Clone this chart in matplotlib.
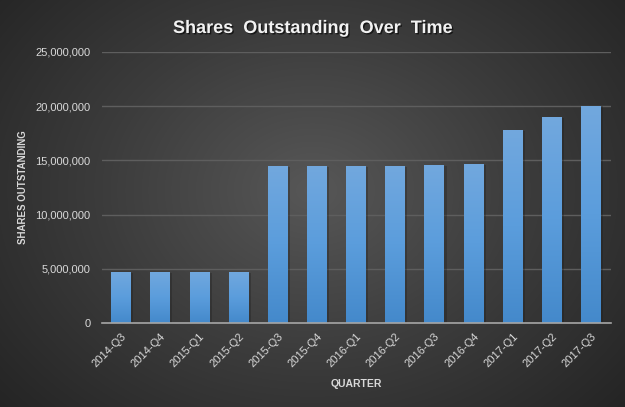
import matplotlib
matplotlib.use("Agg")
import matplotlib.pyplot as plt
import matplotlib.patheffects as pe
from matplotlib.colors import LinearSegmentedColormap
from matplotlib.ticker import FuncFormatter, MultipleLocator
import numpy as np

quarters = ["2014-Q3", "2014-Q4", "2015-Q1", "2015-Q2", "2015-Q3", "2015-Q4",
            "2016-Q1", "2016-Q2", "2016-Q3", "2016-Q4", "2017-Q1", "2017-Q2", "2017-Q3"]
shares = [4720000, 4720000, 4720000, 4720000, 14480000, 14480000,
          14480000, 14480000, 14580000, 14670000, 17800000, 19000000, 20020000]

TEXT = "#d9d9d9"
GRID = "#5e5e5e"

plt.rcParams["font.family"] = ["Liberation Sans", "DejaVu Sans"]

fig = plt.figure(figsize=(6.25, 4.07), dpi=100)

# radial background gradient
bg = fig.add_axes([0, 0, 1, 1], zorder=-10)
yy, xx = np.mgrid[0:407, 0:625]
r = np.sqrt(((xx - 312) / 420.0) ** 2 + ((yy - 190) / 330.0) ** 2)
r = np.clip(r, 0, 1)
bg_cmap = LinearSegmentedColormap.from_list("bg", ["#575757", "#3c3c3c", "#242424"])
bg.imshow(r, cmap=bg_cmap, aspect="auto", extent=(0, 1, 0, 1), vmin=0, vmax=1)
bg.axis("off")

ax = fig.add_axes([0.1626, 0.2056, 0.8144, 0.6674])
ax.patch.set_alpha(0)

x = np.arange(len(quarters))
bars = ax.bar(x, shares, width=0.51, color="#5b9bd5", zorder=3,
              path_effects=[pe.SimplePatchShadow(offset=(1.5, -0.5), shadow_rgbFace="#1a1a1a", alpha=0.3),
                            pe.Normal()])

# vertical gradient inside each bar
bar_cmap = LinearSegmentedColormap.from_list("bar", ["#4489cb", "#5b9ddc", "#72a8de"])
grad = np.linspace(0, 1, 256).reshape(-1, 1)
for b in bars:
    im = ax.imshow(grad, cmap=bar_cmap, aspect="auto", origin="lower",
                   extent=(b.get_x(), b.get_x() + b.get_width(), 0, b.get_height()), zorder=4)
    im.set_clip_path(b)

ax.set_xlim(-0.5, len(quarters) - 0.5)
ax.set_ylim(0, 25000000)
ax.yaxis.set_major_locator(MultipleLocator(5000000))
ax.yaxis.set_major_formatter(FuncFormatter(lambda v, p: f"{int(v):,}"))
ax.grid(True, axis="y", color=GRID, linewidth=1.0, zorder=0)
ax.set_axisbelow(True)

for s in ["top", "right", "left"]:
    ax.spines[s].set_visible(False)
ax.spines["bottom"].set_color("#a6a6a6")
ax.spines["bottom"].set_linewidth(1.2)
ax.spines["bottom"].set_zorder(5)

ax.set_xticks(x)
ax.set_xticklabels(quarters, rotation=45, ha="right", rotation_mode="anchor")
ax.tick_params(axis="both", length=0, colors=TEXT, labelsize=8)
ax.tick_params(axis="y", pad=8)
ax.tick_params(axis="x", pad=6)

ax.set_xlabel("QUARTER", color=TEXT, fontsize=7.5, fontweight="bold", labelpad=7)
ax.set_ylabel("SHARES OUTSTANDING", color=TEXT, fontsize=7, fontweight="bold", labelpad=5)

fig.text(0.5, 0.93, "Shares  Outstanding  Over  Time", ha="center", va="center",
         fontsize=13, fontweight="bold", color="#f2f2f2",
         path_effects=[pe.withSimplePatchShadow(offset=(1, -1), shadow_rgbFace="#000000", alpha=0.6)])

fig.savefig("out.png", dpi=100)
